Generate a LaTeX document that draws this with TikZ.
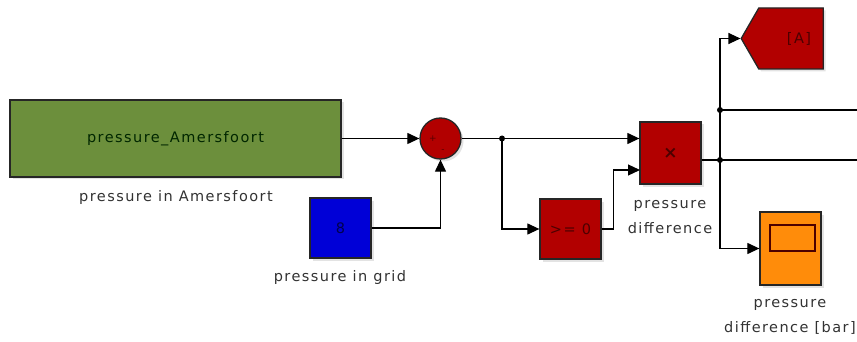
\documentclass[tikz,border=0pt]{standalone}
\usepackage{fontspec}
\usepackage{tikz}
\usetikzlibrary{arrows.meta, shapes.symbols, shadows}
\newfontfamily\blockfont[LetterSpace=10]{DejaVu Sans}
\definecolor{blkgreen}{RGB}{108,143,60}
\definecolor{blkred}{RGB}{178,0,0}
\definecolor{blkblue}{RGB}{0,0,215}
\definecolor{blkorange}{RGB}{255,140,10}
\definecolor{lbltext}{RGB}{50,50,50}
\tikzset{
  block/.style={draw=black!85, line width=1.3pt, minimum width=61pt, minimum height=61pt, inner sep=0pt,
    drop shadow={opacity=0.22, shadow xshift=2.5pt, shadow yshift=-2.5pt}},
  wire/.style={line width=1.2pt, -{Triangle[length=12pt, width=11pt]}},
  plainwire/.style={line width=1.2pt},
  junction/.style={circle, fill=black, inner sep=0pt, minimum size=6pt},
  caption/.style={text=lbltext, align=center},
}

\begin{document}
\begin{tikzpicture}[x=1pt, y=-1pt, font=\blockfont\fontsize{14.5}{25}\selectfont]
  \useasboundingbox (0,0) rectangle (857,342);
  % source blocks
  \node[block, fill=blkgreen, minimum width=331pt, minimum height=77pt, text=black!85!green] (amersfoort) at (175.5,138.5) {pressure\_Amersfoort};
  \node[caption] (amersfoortlbl) at (176,197) {pressure in Amersfoort};
  \node[block, fill=blkblue, minimum height=60pt, text=blue!30!black] (grid) at (340.5,228) {8};
  \node[caption] (gridlbl) at (340,277) {pressure in grid};
  % sum
  \node[block, circle, fill=blkred, minimum size=41pt, minimum width=41pt, minimum height=41pt] (sum) at (440.5,138.5) {};
  \node[text=red!35!black, font=\blockfont\fontsize{9}{9}\selectfont] (plus) at (433,139) {+};
  \node[text=red!35!black, font=\blockfont\fontsize{9}{9}\selectfont] (minus) at (443,151) {-};
  % sign and product
  \node[block, fill=blkred, minimum height=60pt, text=red!30!black] (cmp) at (570.5,229) {>= 0};
  \node[block, fill=blkred, minimum height=62pt, text=red!30!black, font=\blockfont\bfseries\fontsize{17}{17}\selectfont] (prod) at (670.5,153) {×};
  \node[caption] (prodlbl) at (670,217.5) {pressure\\difference};
  % goto tag and scope
  \node[signal, signal to=west, signal pointer angle=120, draw=black!85, line width=1.3pt, fill=blkred,
    minimum width=82pt, minimum height=61pt, inner sep=0pt, text=red!30!black,
    drop shadow={opacity=0.22, shadow xshift=2.5pt, shadow yshift=-2.5pt}] (goto) at (791,38.5) {\hspace{16pt}[A]};
  \node[block, fill=blkorange, minimum height=73pt] (scope) at (790.5,248.5) {};
  \node[draw=black!70!red, line width=1.3pt, fill=blkorange, minimum width=45pt, minimum height=26pt, inner sep=0pt] (screen) at (792.5,238) {};
  \node[caption] (scopelbl) at (790,317) {pressure\\difference [bar]};
  % branch points
  \coordinate (j1) at (502,138.5);
  \coordinate (in2) at (640,170);
  \coordinate (j2) at (720,160);
  \coordinate (j3) at (720,110);
  \coordinate (out1) at (857,110);
  \coordinate (out2) at (857,160);
  % wires
  \draw[wire] (amersfoort) -- (sum);
  \draw[wire] (grid.east) -| (sum.south);
  \draw[plainwire] (sum.east) -- (j1);
  \draw[wire] (j1) -- (j1 -| prod.west);
  \draw[wire] (j1) |- (cmp.west);
  \draw[wire] (cmp.east) -- ++(12,0) |- (in2);
  \draw[plainwire] (prod.east |- j2) -- (j2);
  \draw[wire] (j2) |- (goto.west);
  \draw[wire] (j2) |- (scope.west);
  \draw[plainwire] (j3) -- (out1);
  \draw[plainwire] (j2) -- (out2);
  \node[junction] (dot1) at (j1) {};
  \node[junction] (dot2) at (j2) {};
  \node[junction] (dot3) at (j3) {};
\end{tikzpicture}
\end{document}
